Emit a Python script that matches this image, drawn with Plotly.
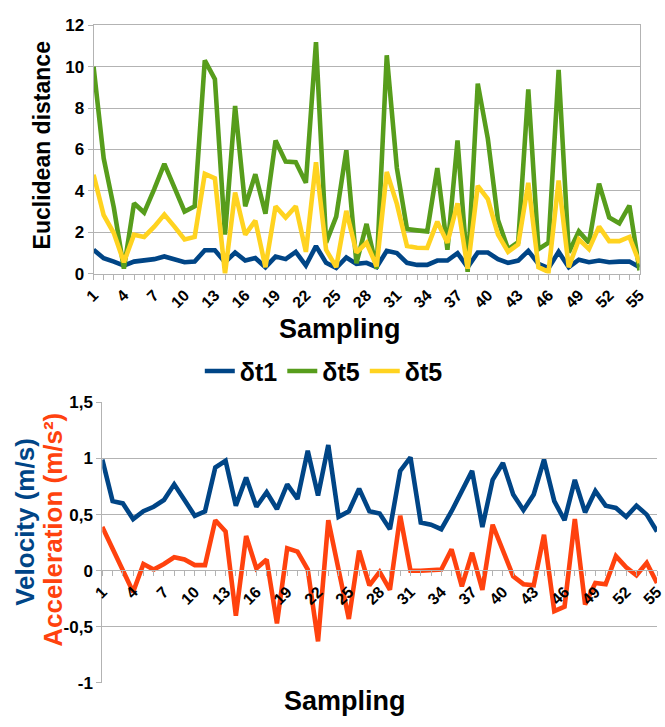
import plotly.graph_objects as go

# ---------------- data ----------------
sampling = list(range(1, 56))
tick_vals = [1, 4, 7, 10, 13, 16, 19, 22, 25, 28, 31, 34, 37, 40, 43, 46, 49, 52, 55]
tick_text = ["1", "4", "7", "10", "13", "16", "19", "22", "25", "28", "31", "34", "37",
             "40", "43", "46", "49", "52", "55"]

dt1 = [1.15, 0.74, 0.58, 0.39, 0.58, 0.63, 0.70, 0.83, 0.67, 0.55, 0.58, 1.13, 1.13, 0.55,
       1.02, 0.63, 0.75, 0.31, 0.82, 0.70, 1.05, 0.39, 1.33, 0.52, 0.27, 0.78, 0.47, 0.52,
       0.31, 1.10, 0.99, 0.52, 0.42, 0.42, 0.63, 0.63, 0.99, 0.31, 1.02, 1.02, 0.70, 0.52,
       0.63, 1.10, 0.47, 0.27, 1.05, 0.31, 0.67, 0.55, 0.63, 0.55, 0.58, 0.58, 0.31]
dt5_green = [10.0, 5.57, 3.2, 0.24, 3.4, 2.95, 4.08, 5.3, 4.15, 3.0, 3.25, 10.3, 9.4, 1.88,
             8.1, 3.25, 4.8, 2.9, 6.43, 5.41, 5.38, 4.39, 11.18, 1.5, 2.75, 5.96, 0.5, 2.4,
             0.24, 10.55, 5.1, 2.15, 2.09, 2.04, 5.1, 1.15, 6.43, 0.08, 9.18, 6.51, 2.59,
             1.18, 1.52, 8.9, 1.18, 1.49, 9.84, 1.02, 2.04, 1.49, 4.35, 2.71, 2.43, 3.29, 0.16]
dt5_yellow = [4.78, 2.82, 1.96, 0.55, 1.88, 1.77, 2.27, 2.85, 2.27, 1.65, 1.77, 4.82, 4.6, 0.0,
              3.92, 1.88, 2.56, 0.31, 3.25, 2.71, 3.25, 1.05, 5.38, 1.15, 0.31, 3.03, 1.02,
              1.49, 0.35, 4.91, 3.37, 1.33, 1.25, 1.24, 2.51, 1.49, 3.4, 0.24, 4.24, 3.6, 1.88,
              1.05, 1.41, 4.39, 0.31, 0.08, 4.5, 0.31, 1.65, 1.18, 2.27, 1.57, 1.57, 1.77, 0.52]

velocity = [0.99, 0.62, 0.60, 0.46, 0.53, 0.57, 0.63, 0.77, 0.63, 0.49, 0.53, 0.92, 0.98, 0.58,
            0.83, 0.57, 0.70, 0.55, 0.77, 0.64, 1.07, 0.67, 1.12, 0.48, 0.53, 0.73, 0.53, 0.51,
            0.37, 0.89, 1.01, 0.43, 0.41, 0.37, 0.53, 0.72, 0.89, 0.39, 0.81, 0.96, 0.68, 0.54,
            0.68, 0.99, 0.62, 0.45, 0.81, 0.52, 0.71, 0.58, 0.56, 0.48, 0.58, 0.50, 0.35]
acceleration = [0.39, 0.20, 0.0, -0.19, 0.06, 0.01, 0.06, 0.12, 0.10, 0.05, 0.05, 0.45, 0.35,
                -0.40, 0.31, 0.02, 0.10, -0.47, 0.20, 0.17, 0.01, -0.63, 0.45, 0.0, -0.43, 0.18,
                -0.13, -0.01, -0.17, 0.49, 0.0, 0.0, 0.0, 0.01, 0.19, -0.14, 0.16, -0.17, 0.41,
                0.17, -0.05, -0.12, -0.13, 0.32, -0.36, -0.32, 0.46, -0.30, -0.11, -0.12, 0.13,
                0.03, -0.04, 0.07, -0.11]

top_yticks = [0, 2, 4, 6, 8, 10, 12]
bot_yticks = [-1, -0.5, 0, 0.5, 1, 1.5]
bot_yticktext = ["-1", "-0,5", "0", "0,5", "1", "1,5"]

# ---------------- style ----------------
BLUE = "#004586"
GREEN = "#579d1c"
YELLOW = "#ffd320"
RED = "#ff420e"
GRID = "#b3b3b3"
FONT = "Liberation Sans"
W, H = 665, 727
LW = 4.6


def px(x):
    return x / W


def py(y):
    return 1 - y / H


fig = go.Figure()
fig.add_trace(go.Scatter(x=sampling, y=dt1, mode="lines", name="δt1",
                         line=dict(color=BLUE, width=LW), xaxis="x", yaxis="y"))
fig.add_trace(go.Scatter(x=sampling, y=dt5_green, mode="lines", name="δt5",
                         line=dict(color=GREEN, width=LW), xaxis="x", yaxis="y"))
fig.add_trace(go.Scatter(x=sampling, y=dt5_yellow, mode="lines", name="δt5",
                         line=dict(color=YELLOW, width=LW), xaxis="x", yaxis="y"))
fig.add_trace(go.Scatter(x=sampling, y=velocity, mode="lines", name="Velocity",
                         line=dict(color=BLUE, width=LW), xaxis="x2", yaxis="y2",
                         showlegend=False))
fig.add_trace(go.Scatter(x=sampling, y=acceleration, mode="lines", name="Acceleration",
                         line=dict(color=RED, width=LW), xaxis="x2", yaxis="y2",
                         showlegend=False))

tickfont = dict(family=FONT, size=16, color="black", weight="bold")
minor = dict(dtick=1, ticks="outside", ticklen=5, tickcolor=GRID, showgrid=False)

fig.update_layout(
    width=W, height=H,
    margin=dict(l=0, r=0, t=0, b=0),
    paper_bgcolor="white", plot_bgcolor="white",
    font=dict(family=FONT, color="black"),
    xaxis=dict(domain=[px(85), px(647)], range=[1, 55], anchor="y",
               tickvals=tick_vals, ticktext=tick_text, tickangle=-45,
               ticks="outside", ticklen=5, tickcolor=GRID, tickfont=tickfont,
               showgrid=False, showline=True, linecolor=GRID, linewidth=1, mirror=True,
               minor=minor, zeroline=False),
    yaxis=dict(domain=[py(271.7), py(16.7)], range=[0, 12], anchor="x",
               tickvals=top_yticks, ticks="outside", ticklen=5, tickcolor=GRID,
               tickfont=dict(family=FONT, size=17, color="black", weight="bold"),
               showgrid=True, gridcolor=GRID, gridwidth=1,
               showline=True, linecolor=GRID, linewidth=1, mirror=True, zeroline=False),
    xaxis2=dict(domain=[px(94), 1.0], range=[1, 55], anchor="free",
                position=py(576.5),
                tickvals=tick_vals, ticktext=tick_text, tickangle=-45,
                ticks="outside", ticklen=5, tickcolor=GRID, tickfont=tickfont,
                showgrid=False, showline=True, linecolor=GRID, linewidth=1,
                minor=minor, zeroline=False),
    yaxis2=dict(domain=[py(692), py(404)], range=[-1, 1.5], anchor="x2",
                tickvals=bot_yticks, ticktext=bot_yticktext,
                ticks="outside", ticklen=5, tickcolor=GRID,
                tickfont=dict(family=FONT, size=17, color="black", weight="bold"),
                showgrid=True, gridcolor=GRID, gridwidth=1,
                showline=True, linecolor=GRID, linewidth=1, zeroline=False),
    legend=dict(orientation="h", x=px(322), xanchor="center", y=py(372), yanchor="middle",
                font=dict(family=FONT, size=25, color="black", weight="bold"),
                itemwidth=30, tracegroupgap=0, bgcolor="rgba(0,0,0,0)"),
    showlegend=True,
)

title_font = dict(family=FONT, size=27, color="black", weight="bold")
annotations = [
    dict(text="Euclidean distance", x=px(32), y=py(140), xref="paper", yref="paper",
         textangle=-90, showarrow=False,
         font=dict(family=FONT, size=23, color="black", weight="bold"),
         xanchor="center", yanchor="middle"),
    dict(text="Sampling", x=px(339), y=py(329), xref="paper", yref="paper",
         showarrow=False, font=title_font, xanchor="center", yanchor="middle"),
    dict(text="Sampling", x=px(344), y=py(711), xref="paper", yref="paper",
         showarrow=False, font=title_font, xanchor="center", yanchor="middle"),
    dict(text="Velocity (m/s)", x=px(15), y=py(527), xref="paper", yref="paper",
         textangle=-90, showarrow=False,
         font=dict(family=FONT, size=26, color=BLUE, weight="bold"),
         xanchor="center", yanchor="middle"),
    dict(text="Acceleration (m/s²)", x=px(43), y=py(535), xref="paper", yref="paper",
         textangle=-90, showarrow=False,
         font=dict(family=FONT, size=26, color=RED, weight="bold"),
         xanchor="center", yanchor="middle"),
]
fig.update_layout(annotations=annotations)

fig.write_html("out.html")
